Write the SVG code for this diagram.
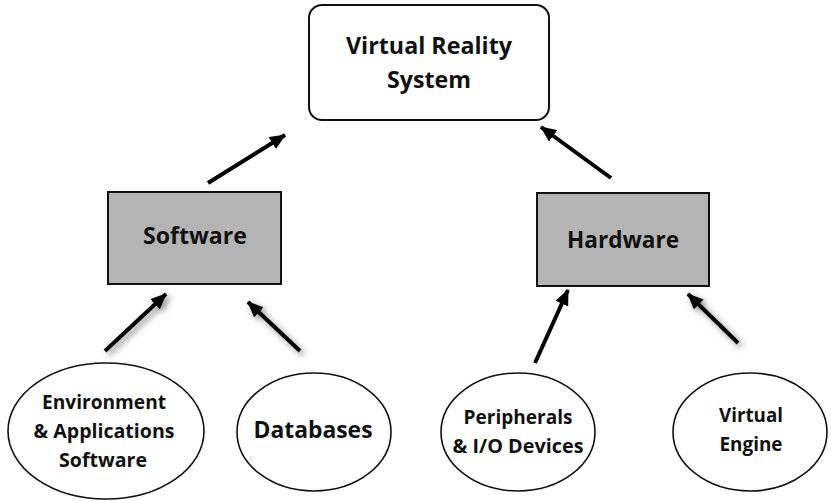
<svg xmlns="http://www.w3.org/2000/svg" width="831" height="501" viewBox="0 0 831 501">
<style>
text{font-family:"Open Sans","Liberation Sans",sans-serif;font-weight:bold;fill:#111;text-anchor:middle}
.node{stroke:#111;stroke-width:2}
.box{fill:#b4b4b4}
.ell{fill:#fff;stroke-width:1.6}
.con{stroke:#000;stroke-width:4;fill:none;marker-end:url(#ah)}
.sh{filter:url(#shadow)}
</style>
<defs>
<marker id="ah" markerUnits="userSpaceOnUse" markerWidth="16" markerHeight="14" refX="15" refY="7" orient="auto">
<path d="M0,0 L16,7 L0,14 Z" fill="#000"/>
</marker>
<filter id="shadow" x="-50%" y="-50%" width="200%" height="200%">
<feDropShadow dx="3" dy="3" stdDeviation="3" flood-color="#555" flood-opacity="0.7"/>
</filter>
</defs>
<g id="vr-system">
<rect class="node" x="309" y="5" width="240" height="115" rx="13" fill="#fff"/>
<text x="429" y="54" font-size="23" textLength="166" lengthAdjust="spacingAndGlyphs">Virtual Reality</text>
<text x="429" y="88" font-size="23" textLength="84" lengthAdjust="spacingAndGlyphs">System</text>
</g>
<g id="software">
<rect class="node box" x="108" y="192" width="173" height="92"/>
<text x="195" y="244" font-size="23" textLength="104" lengthAdjust="spacingAndGlyphs">Software</text>
</g>
<g id="hardware">
<rect class="node box" x="537" y="193" width="172" height="93"/>
<text x="623" y="248" font-size="23" textLength="112" lengthAdjust="spacingAndGlyphs">Hardware</text>
</g>
<g id="env-apps">
<ellipse class="node ell" cx="106" cy="431" rx="98" ry="68"/>
<text x="104" y="409" font-size="19" textLength="124" lengthAdjust="spacingAndGlyphs">Environment</text>
<text x="104" y="438" font-size="19" textLength="141" lengthAdjust="spacingAndGlyphs">&amp; Applications</text>
<text x="103" y="467" font-size="19" textLength="88" lengthAdjust="spacingAndGlyphs">Software</text>
</g>
<g id="databases">
<ellipse class="node ell" cx="314" cy="432" rx="77" ry="59"/>
<text x="313" y="438" font-size="24" textLength="119" lengthAdjust="spacingAndGlyphs">Databases</text>
</g>
<g id="peripherals">
<ellipse class="node ell" cx="518" cy="432" rx="77" ry="59"/>
<text x="518" y="424" font-size="19" textLength="109" lengthAdjust="spacingAndGlyphs">Peripherals</text>
<text x="518" y="453" font-size="19" textLength="131" lengthAdjust="spacingAndGlyphs">&amp; I/O Devices</text>
</g>
<g id="virtual-engine">
<ellipse class="node ell" cx="750" cy="432" rx="77" ry="59"/>
<text x="751" y="422" font-size="19" textLength="64" lengthAdjust="spacingAndGlyphs">Virtual</text>
<text x="751" y="451" font-size="19" textLength="63" lengthAdjust="spacingAndGlyphs">Engine</text>
</g>
<g id="connectors">
<line class="con" x1="208" y1="183" x2="285" y2="135"/>
<line class="con" x1="611" y1="178" x2="541" y2="127"/>
<line class="con sh" x1="105" y1="351" x2="166" y2="294"/>
<line class="con sh" x1="300" y1="351" x2="248" y2="302"/>
<line class="con" x1="535" y1="363" x2="568" y2="290"/>
<line class="con sh" x1="738" y1="343" x2="688" y2="294"/>
</g>
</svg>
